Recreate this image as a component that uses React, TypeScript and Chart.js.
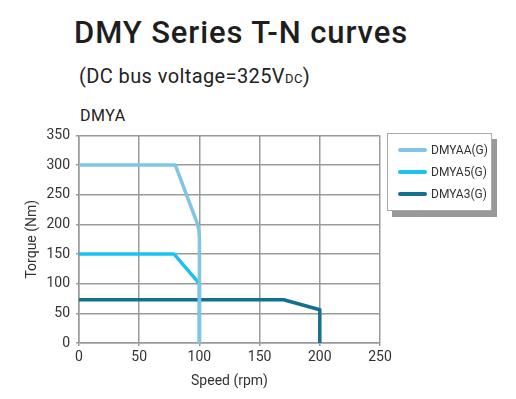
import React, { useEffect, useRef } from "react";
import { Chart, registerables } from "chart.js";

Chart.register(...registerables);

const seriesNames = ["DMYAA(G)", "DMYA5(G)", "DMYA3(G)"];
const seriesColors = ["#7fc6e6", "#1cc1f0", "#13708f"];
const speedAA = [0, 80, 98, 99.6, 100, 100];
const torqueAA = [300, 300, 203, 190, 175, 0];
const speedA5 = [0, 79, 100, 100];
const torqueA5 = [150, 150, 100, 0];
const speedA3 = [0, 170, 200, 200];
const torqueA3 = [73, 73, 56, 0];
const xTicks = [0, 50, 100, 150, 200, 250];
const yTicks = [0, 50, 100, 150, 200, 250, 300, 350];

const FONT = "Roboto, 'DejaVu Sans', sans-serif";

function pts(xs: number[], ys: number[]) {
  return xs.map((x, i) => ({ x, y: ys[i] }));
}

export default function App() {
  const ref = useRef<HTMLCanvasElement>(null);
  useEffect(() => {
    const ctx = ref.current!;
    const data = [pts(speedAA, torqueAA), pts(speedA5, torqueA5), pts(speedA3, torqueA3)];
    const chart = new Chart(ctx, {
      type: "line",
      data: {
        datasets: data.map((d, i) => ({
          label: seriesNames[i],
          data: d,
          borderColor: seriesColors[i],
          backgroundColor: seriesColors[i],
          borderWidth: 3.5,
          pointRadius: 0,
          borderJoinStyle: "round" as const,
          tension: 0,
        })),
      },
      options: {
        animation: false,
        responsive: false,
        maintainAspectRatio: false,
        layout: { padding: { left: 0, right: 20, top: 0, bottom: 0 } },
        plugins: { legend: { display: false }, tooltip: { enabled: false } },
        scales: {
          x: {
            type: "linear",
            min: 0,
            max: 250,
            afterBuildTicks: (s: any) => {
              s.ticks = xTicks.map((v) => ({ value: v }));
            },
            afterFit: (s: any) => {
              s.height = 58;
            },
            grid: { color: "#9a9a9a", lineWidth: 1.5, tickLength: 3 },
            border: { color: "#9a9a9a", width: 1.5 },
            ticks: { color: "#333", font: { family: FONT, size: 14 }, padding: 3, maxRotation: 0 },
            title: {
              display: true,
              text: "Speed (rpm)",
              color: "#333",
              font: { family: FONT, size: 14 },
              padding: { top: 0, bottom: 11 },
            },
          },
          y: {
            type: "linear",
            min: 0,
            max: 350,
            afterBuildTicks: (s: any) => {
              s.ticks = yTicks.map((v) => ({ value: v }));
            },
            afterFit: (s: any) => {
              s.width = 79;
            },
            grid: { color: "#9a9a9a", lineWidth: 1.5, tickLength: 3 },
            border: { color: "#9a9a9a", width: 1.5 },
            ticks: { color: "#333", font: { family: FONT, size: 14 }, padding: 6 },
            title: {
              display: true,
              text: "Torque (Nm)",
              color: "#333",
              font: { family: FONT, size: 14 },
              padding: { top: 24, bottom: 0 },
            },
          },
        },
      },
    });
    return () => chart.destroy();
  }, []);

  return (
    <div
      style={{
        position: "fixed",
        left: 0,
        top: 0,
        width: 516,
        height: 399,
        background: "#fff",
        fontFamily: FONT,
        color: "#222",
        overflow: "hidden",
      }}
    >
      <div style={{ position: "absolute", left: 74, top: 14, fontSize: 31, fontWeight: 500, letterSpacing: 0.9, whiteSpace: "nowrap", color: "#1e1e1e" }}>
        DMY Series T-N curves
      </div>
      <div style={{ position: "absolute", left: 79, top: 64, fontSize: 20, letterSpacing: 0.4, whiteSpace: "nowrap", color: "#222" }}>
        (DC bus voltage=325V<span style={{ fontSize: 13 }}>DC</span>)
      </div>
      <div style={{ position: "absolute", left: 80, top: 106, fontSize: 16, letterSpacing: 0.5, whiteSpace: "nowrap", color: "#222" }}>
        DMYA
      </div>
      <canvas
        ref={ref}
        width={400}
        height={280}
        style={{ position: "absolute", left: 0, top: 121, width: 400, height: 280 }}
      />
      <div
        style={{
          position: "absolute",
          left: 387,
          top: 133,
          width: 103,
          height: 76,
          border: "1px solid #aaa",
          background: "#fff",
          boxShadow: "5px 6px 0 #999",
        }}
      >
        {seriesNames.map((n, i) => (
          <div key={n} style={{ position: "absolute", left: 10, top: 9 + i * 22, height: 14, display: "flex", alignItems: "center", whiteSpace: "nowrap" }}>
            <div style={{ width: 29, height: 3.5, background: seriesColors[i], borderRadius: 2 }} />
            <span style={{ marginLeft: 4, fontSize: 12, color: "#333" }}>{n}</span>
          </div>
        ))}
      </div>
    </div>
  );
}
